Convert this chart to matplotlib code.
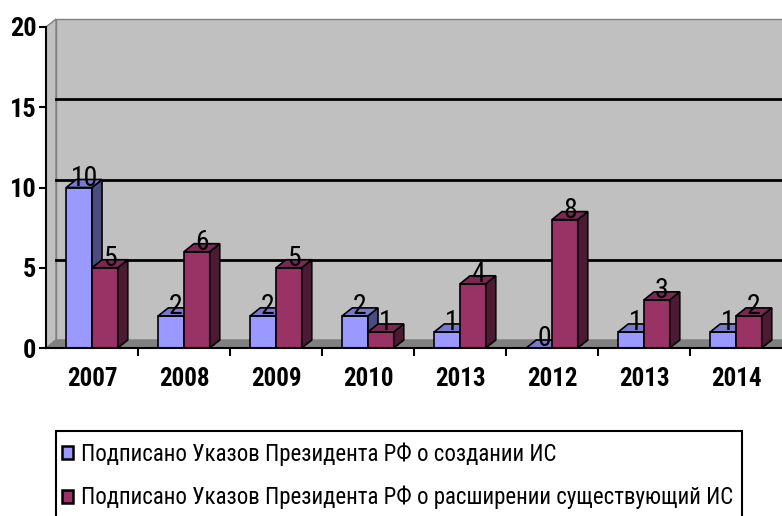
import matplotlib
matplotlib.use('Agg')
import matplotlib.pyplot as plt
from matplotlib.patches import Polygon, Rectangle, Patch
import numpy as np

years = ['2007', '2008', '2009', '2010', '2013', '2012', '2013', '2014']
created = [10, 2, 2, 2, 1, 0, 1, 1]
extended = [5, 6, 5, 1, 4, 8, 3, 2]
series_names = ['Подписано Указов Президента РФ о создании ИС',
                'Подписано Указов Президента РФ о расширении существующий ИС']

plt.rcParams['font.family'] = ['Roboto Condensed', 'PT Sans Narrow', 'DejaVu Sans']

# depth of the fake 3d effect, in pixels
DX, DY = 10, 8
W = 0.28

fig = plt.figure(figsize=(7.82, 5.16), dpi=100)
ax = fig.add_axes([46/782, 168/516, 736/782, 321/516])
n = len(years)
ax.set_xlim(-0.5, n - 0.5)
ax.set_ylim(0, 20)

# pixel depth -> data units
p0 = ax.transData.transform((0, 0))
ddx, ddy = ax.transData.inverted().transform(p0 + np.array([DX, DY]))

x0, x1 = -0.5, n - 0.5
# back wall, left wall, floor
ax.add_patch(Rectangle((x0 + ddx, ddy), n, 20, facecolor='#C0C0C0', edgecolor='#808080',
                       lw=1, clip_on=False, zorder=0))
ax.add_patch(Polygon([(x0, 0), (x0 + ddx, ddy), (x0 + ddx, 20 + ddy), (x0, 20)], closed=True,
                     facecolor='#C0C0C0', edgecolor='#808080', lw=1, clip_on=False, zorder=0))
ax.add_patch(Polygon([(x0, 0), (x1, 0), (x1 + ddx, ddy), (x0 + ddx, ddy)], closed=True,
                     facecolor='#808080', edgecolor='#808080', lw=1, clip_on=False, zorder=0))
for g in [5, 10, 15]:
    ax.plot([x0 + ddx, x1 + ddx], [g + ddy, g + ddy], color='black', lw=2, clip_on=False, zorder=1)


def bar3d(xl, h, front, top, side):
    xr = xl + W
    ax.add_patch(Rectangle((xl, 0), W, h, facecolor=front, edgecolor='black', lw=1.2, zorder=3))
    ax.add_patch(Polygon([(xr, 0), (xr + ddx, ddy), (xr + ddx, h + ddy), (xr, h)], closed=True,
                         facecolor=side, edgecolor='black', lw=1.2, zorder=3, clip_on=False))
    ax.add_patch(Polygon([(xl, h), (xr, h), (xr + ddx, h + ddy), (xl + ddx, h + ddy)], closed=True,
                         facecolor=top, edgecolor='black', lw=1.2, zorder=3, clip_on=False))


xs = np.arange(n)
for i in range(n):
    bar3d(xs[i] - W, created[i], '#9999FF', '#7A7ACC', '#4C4C80')
    bar3d(xs[i], extended[i], '#993366', '#7A2952', '#4D1A33')

for vals, off in [(created, -W / 2), (extended, W / 2)]:
    for i, v in enumerate(vals):
        ax.annotate(str(v), (xs[i] + off, v), xytext=(DX / 2, 2), textcoords='offset pixels',
                    ha='center', va='baseline', fontsize=20, zorder=5, annotation_clip=False)

for s in ['top', 'right']:
    ax.spines[s].set_visible(False)
ax.spines['left'].set_linewidth(1.5)
ax.spines['bottom'].set_linewidth(1.5)
ax.spines['left'].set_zorder(4)
ax.spines['bottom'].set_zorder(4)
ax.set_facecolor('none')

ax.set_yticks([0, 5, 10, 15, 20])
ax.tick_params(axis='y', direction='out', length=5, width=1.5, labelsize=19, pad=2)
ax.set_xticks(xs)
ax.set_xticklabels(years)
ax.set_xticks(np.arange(0.5, n - 0.5, 1), minor=True)
ax.tick_params(axis='x', which='major', length=0, labelsize=18, pad=14)
ax.tick_params(axis='x', which='minor', direction='out', length=6, width=1.5)
for lab in ax.get_xticklabels() + ax.get_yticklabels():
    lab.set_fontweight('bold')

# legend box runs off the bottom of the picture
fig.patches.append(Rectangle((56/782, -0.05), 686/782, 0.05 + 1 - 431/516, transform=fig.transFigure,
                             facecolor='white', edgecolor='black', lw=1.5, zorder=1))
handles = [Patch(facecolor='#9999FF', edgecolor='black', lw=1.8),
           Patch(facecolor='#993366', edgecolor='black', lw=1.8)]
leg = fig.legend(handles, series_names, loc='upper left', bbox_to_anchor=(62/782, 1 - 442/516),
                 fontsize=16.5, frameon=False,
                 handlelength=0.5, handleheight=0.5, handletextpad=0.35, labelspacing=0.88,
                 borderpad=0, borderaxespad=0)

fig.savefig('out.png', dpi=100)
